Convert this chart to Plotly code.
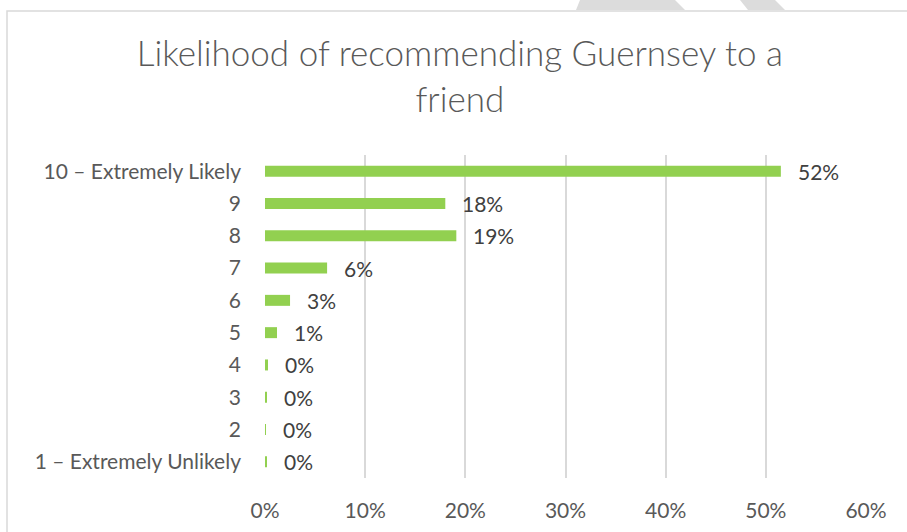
import plotly.graph_objects as go

categories = ["10 – Extremely Likely", "9", "8", "7", "6", "5", "4", "3", "2", "1 – Extremely Unlikely"]
values = [0.515, 0.180, 0.191, 0.062, 0.025, 0.012, 0.003, 0.002, 0.0005, 0.0015]
labels = ["52%", "18%", "19%", "6%", "3%", "1%", "0%", "0%", "0%", "0%"]
x_ticks = [0, 0.1, 0.2, 0.3, 0.4, 0.5, 0.6]
x_tick_labels = ["0%", "10%", "20%", "30%", "40%", "50%", "60%"]
title_text = "Likelihood of recommending Guernsey to a<br>friend"

W, H = 907, 532
L, R, T, B = 265, 41, 155, 54
pw, ph = W - L - R, H - T - B
FONT = "Lato, sans-serif"

def px(x):
    return (x - L) / pw

def py(y):
    return (H - B - y) / ph

fig = go.Figure()
fig.add_trace(go.Bar(
    y=categories, x=values, orientation="h",
    marker=dict(color="#92D050", line=dict(width=0)),
    hoverinfo="skip",
))

annotations = []
for i, (v, t) in enumerate(zip(values, labels)):
    annotations.append(dict(
        x=v, y=i, xref="x", yref="y", text=t, showarrow=False,
        xanchor="left", yanchor="middle", xshift=15,
        font=dict(family=FONT, size=21, color="#404040"),
    ))

shapes = [
    dict(type="rect", xref="paper", yref="paper",
         x0=px(7), x1=px(W + 20), y0=py(H + 20), y1=py(11),
         line=dict(color="#d9d9d9", width=1.5), fillcolor="rgba(0,0,0,0)", layer="below"),
    dict(type="path", xref="paper", yref="paper",
         path=f"M {px(580)} {py(0)} L {px(675)} {py(0)} L {px(685)} {py(10)} L {px(576)} {py(10)} Z",
         fillcolor="#dcdcdc", line=dict(width=0), layer="below"),
    dict(type="path", xref="paper", yref="paper",
         path=f"M {px(740)} {py(0)} L {px(775)} {py(0)} L {px(785)} {py(10)} L {px(748)} {py(10)} Z",
         fillcolor="#dcdcdc", line=dict(width=0), layer="below"),
]

fig.update_layout(
    width=W, height=H,
    margin=dict(l=L, r=R, t=T, b=B, autoexpand=False),
    paper_bgcolor="white", plot_bgcolor="white",
    showlegend=False,
    bargap=0.66,
    title=dict(text=title_text, x=0.507, xref="container", xanchor="center",
               y=1 - 66 / H, yref="container", yanchor="top",
               font=dict(family=FONT, size=35, color="#595959", weight=300)),
    xaxis=dict(range=[0, 0.6], tickvals=x_ticks, ticktext=x_tick_labels,
               showgrid=True, gridcolor="#d9d9d9", gridwidth=1.5,
               zeroline=False, showline=False, ticks="",
               ticklabelstandoff=18,
               tickfont=dict(family=FONT, size=21, color="#595959")),
    yaxis=dict(type="category", categoryorder="array", categoryarray=categories,
               autorange="reversed",
               showgrid=False, zeroline=False, showline=False, ticks="",
               ticklabelstandoff=23,
               tickfont=dict(family=FONT, size=21, color="#595959")),
    annotations=annotations,
    shapes=shapes,
)

fig.write_html("out.html", config={"displayModeBar": False},
               post_script="document.body.style.margin='0px';")
